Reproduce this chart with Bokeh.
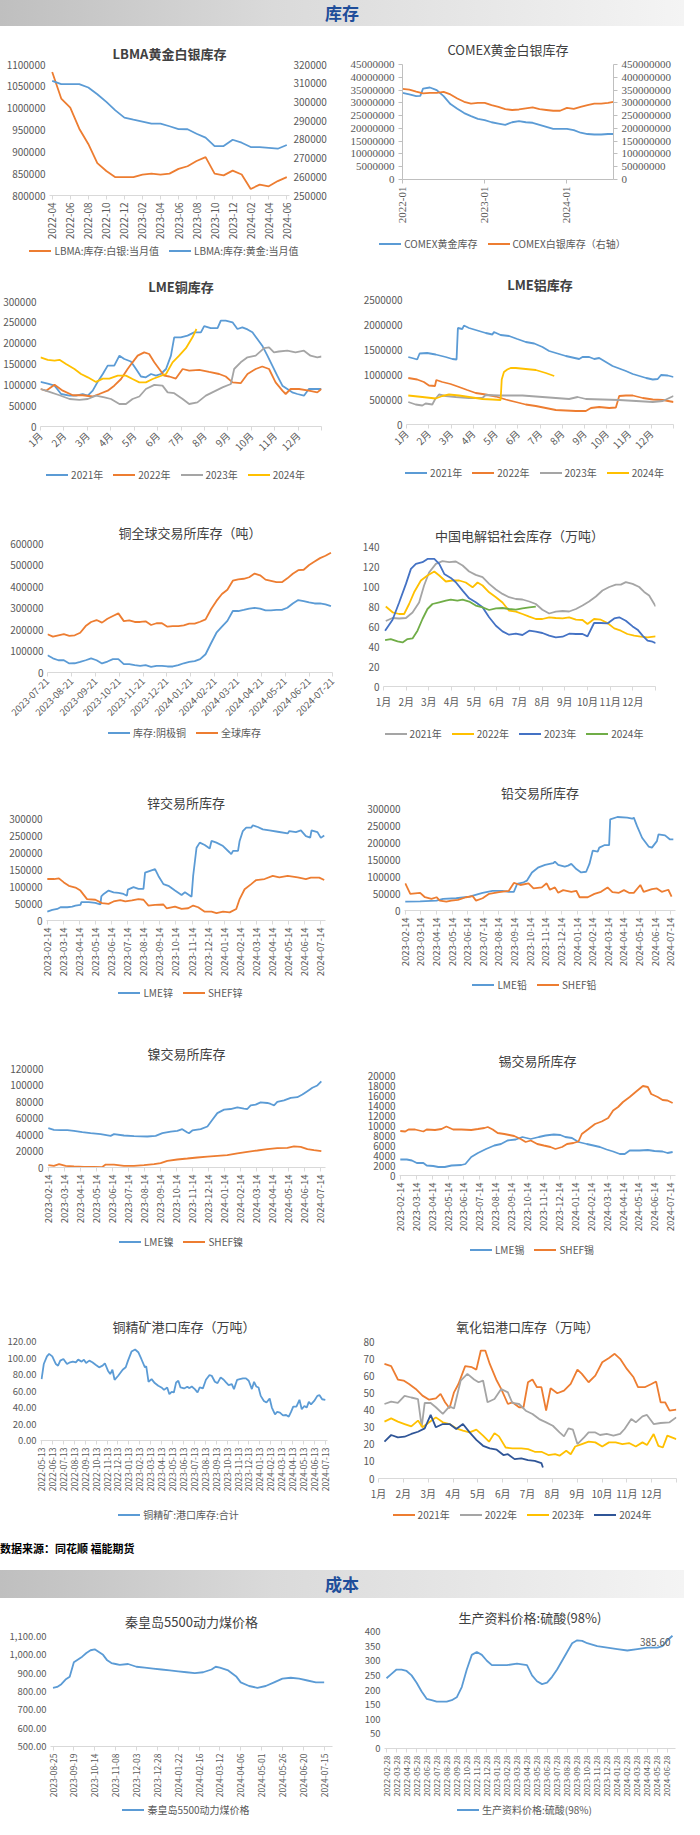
import math
import pandas as pd
from bokeh.plotting import figure
from bokeh.models import Range1d, LinearAxis, FixedTicker, NumeralTickFormatter, Div, AllLabels
from bokeh.layouts import column, row
from bokeh.embed import file_html
from bokeh.resources import INLINE
from bokeh.core.properties import value

# ======================= DATA =======================
lbma_months = list(range(27))
lbma_tick_pos = list(range(0, 27, 2))
lbma_tick_labels = ["2022-04", "2022-06", "2022-08", "2022-10", "2022-12", "2023-02", "2023-04",
                    "2023-06", "2023-08", "2023-10", "2023-12", "2024-02", "2024-04", "2024-06"]
lbma_silver = [1083000, 1022000, 1001000, 953000, 918000, 874000, 856000, 842000, 842000, 842000,
               848000, 850000, 848000, 850000, 861000, 867000, 879000, 888000, 850000, 846000,
               857000, 848000, 815000, 825000, 821000, 833000, 842000]
lbma_gold = [311250, 309500, 309500, 309500, 307700, 304100, 300000, 295500, 291600, 290500,
             289500, 288400, 288400, 287000, 285500, 285400, 283000, 280900, 276400, 276400,
             279800, 278200, 275900, 275900, 275500, 275000, 277000]

comex_tick_pos = [0, 12, 24]
comex_tick_labels = ["2022-01", "2023-01", "2024-01"]
comex_gold_m = [0, 1, 2, 2.6, 3, 4, 5, 6, 7, 8, 9, 10, 11, 12, 13, 14, 15, 16, 17, 18, 19, 20,
                21, 22, 23, 24, 25, 26, 27, 28, 29, 30, 30.8]
comex_gold = [33.9e6, 33.3e6, 32.6e6, 32.7e6, 35.6e6, 36.0e6, 35.0e6, 32.6e6, 29.5e6, 27.7e6,
              26.0e6, 24.8e6, 23.7e6, 23.2e6, 22.4e6, 21.9e6, 21.4e6, 22.4e6, 22.8e6, 22.4e6,
              22.2e6, 21.4e6, 20.6e6, 19.8e6, 19.8e6, 19.8e6, 19.3e6, 18.3e6, 17.8e6, 17.6e6,
              17.6e6, 17.8e6, 17.8e6]
comex_silver_m = [0, 1, 2, 3, 4, 5, 6, 7, 8, 9, 10, 11, 12, 13, 14, 15, 16, 17, 18, 19, 20, 21,
                  22, 23, 24, 25, 26, 27, 28, 29, 30, 30.8]
comex_silver = [355e6, 352e6, 344e6, 337e6, 339e6, 339e6, 343e6, 333e6, 317e6, 304e6, 297e6,
                300e6, 300e6, 291e6, 284e6, 275e6, 272e6, 274e6, 278e6, 282e6, 275e6, 272e6,
                269e6, 269e6, 280e6, 276e6, 284e6, 291e6, 297e6, 297e6, 300e6, 304e6]

month_labels = ["1月", "2月", "3月", "4月", "5月", "6月", "7月", "8月", "9月", "10月", "11月", "12月"]

cu21_m = [0, 0.31, 0.6, 0.88, 1.24, 1.52, 1.8, 2.02, 2.23, 2.44, 2.66, 2.87, 3.15, 3.37, 3.58, 3.86,
          4.08, 4.29, 4.5, 4.72, 4.93, 5.14, 5.36, 5.57, 5.71, 5.99, 6.28, 6.56, 6.85, 6.99, 7.27,
          7.56, 7.7, 7.91, 8.2, 8.41, 8.62, 8.84, 9.05, 9.26, 9.47, 9.69, 9.9, 10.11, 10.33, 10.54,
          10.75, 10.97, 11.25, 11.46, 11.75, 12.0]
cu21_v = [107, 103, 98, 78, 74, 74, 78, 74, 86, 107, 126, 146, 146, 170, 162, 156, 138, 120, 118,
          126, 122, 126, 138, 170, 214, 214, 218, 226, 226, 241, 236, 236, 254, 254, 250, 234, 238,
          233, 226, 210, 194, 170, 146, 122, 98, 90, 82, 78, 74, 90, 90, 90]
cu22_m = [0, 0.24, 0.6, 0.95, 1.38, 1.8, 2.23, 2.51, 2.87, 3.15, 3.44, 3.72, 3.93, 4.15, 4.43, 4.64,
          4.86, 5.07, 5.28, 5.5, 5.78, 6.07, 6.35, 6.78, 7.2, 7.63, 7.91, 8.2, 8.55, 8.84, 9.19,
          9.47, 9.76, 10.04, 10.33, 10.47, 10.68, 11.04, 11.46, 11.82, 12]
cu22_v = [90, 86, 100, 86, 75, 75, 72, 78, 86, 98, 114, 138, 154, 170, 178, 174, 154, 138, 122, 120,
          115, 138, 134, 136, 131, 126, 120, 106, 104, 126, 138, 144, 138, 106, 86, 78, 90, 90, 86,
          82, 90]
cu23_m = [0, 0.38, 0.81, 1.24, 1.66, 2.02, 2.37, 2.73, 3.01, 3.37, 3.65, 3.93, 4.22, 4.5, 4.86,
          5.21, 5.43, 5.71, 6.07, 6.35, 6.7, 7.06, 7.34, 7.77, 8.13, 8.27, 8.55, 8.84, 9.19, 9.55,
          9.76, 9.97, 10.18, 10.54, 10.89, 11.25, 11.53, 11.82, 12]
cu23_v = [90, 83, 75, 66, 64, 66, 74, 70, 66, 54, 54, 66, 72, 90, 100, 98, 82, 80, 66, 54, 58, 74,
          82, 94, 102, 138, 154, 166, 170, 188, 190, 178, 180, 182, 178, 182, 170, 166, 168]
cu24_m = [0, 0.31, 0.6, 0.81, 1.09, 1.45, 1.73, 2.02, 2.37, 2.66, 2.94, 3.3, 3.65, 3.93, 4.22, 4.5,
          4.79, 5.07, 5.36, 5.64, 5.92, 6.21, 6.49, 6.66]
cu24_v = [166, 160, 158, 160, 150, 138, 126, 118, 107, 115, 115, 122, 122, 114, 106, 106, 114, 120,
          126, 154, 170, 188, 214, 234]

al21_m = [0.08, 0.33, 0.48, 0.59, 0.93, 1.31, 1.76, 2.06, 2.25, 2.31, 2.51, 2.58, 2.81, 3.11, 3.56,
          3.86, 3.93, 4.23, 4.61, 4.98, 5.36, 5.74, 6.11, 6.41, 6.86, 7.16, 7.46, 7.76, 7.91, 8.21,
          8.44, 8.66, 8.96, 9.26, 9.56, 9.86, 10.17, 10.47, 10.77, 11.07, 11.29, 11.44, 11.74, 12.0]
al21_v = [1.35, 1.32, 1.30, 1.42, 1.43, 1.40, 1.35, 1.31, 1.30, 1.93, 1.91, 1.98, 1.93, 1.89, 1.83,
          1.80, 1.85, 1.79, 1.77, 1.71, 1.65, 1.62, 1.55, 1.47, 1.41, 1.37, 1.34, 1.31, 1.35, 1.35,
          1.31, 1.33, 1.25, 1.17, 1.12, 1.07, 1.01, 0.97, 0.93, 0.90, 0.91, 0.99, 0.98, 0.95]
al22_m = [0.08, 0.48, 0.78, 1.01, 1.28, 1.34, 1.61, 1.98, 2.36, 2.73, 3.11, 3.56, 4.01, 4.46, 4.91,
          5.36, 5.81, 6.26, 6.71, 7.16, 7.61, 8.06, 8.29, 8.66, 9.11, 9.41, 9.56, 9.86, 10.17,
          10.62, 11.07, 11.52, 12.0]
al22_v = [0.93, 0.90, 0.85, 0.78, 0.77, 0.89, 0.85, 0.81, 0.75, 0.69, 0.63, 0.60, 0.56, 0.50, 0.45,
          0.40, 0.37, 0.33, 0.29, 0.28, 0.27, 0.27, 0.33, 0.35, 0.33, 0.34, 0.57, 0.58, 0.58, 0.53,
          0.50, 0.49, 0.45]
al23_m = [0.08, 0.41, 0.71, 0.86, 1.16, 1.28, 1.46, 1.76, 2.21, 2.81, 3.41, 3.56, 4.16, 4.61, 5.21,
          5.51, 6.11, 6.71, 7.31, 7.69, 8.06, 8.81, 9.56, 10.32, 11.07, 11.52, 12]
al23_v = [0.45, 0.40, 0.38, 0.42, 0.40, 0.50, 0.60, 0.57, 0.55, 0.53, 0.53, 0.59, 0.58, 0.58, 0.58,
          0.57, 0.55, 0.53, 0.51, 0.55, 0.51, 0.50, 0.49, 0.47, 0.45, 0.47, 0.57]
al24_m = [0.08, 0.71, 1.31, 1.61, 1.91, 2.36, 2.81, 3.41, 3.86, 4.23, 4.28, 4.38, 4.53, 4.68, 4.91,
          5.36, 5.81, 6.26, 6.64]
al24_v = [0.58, 0.55, 0.52, 0.57, 0.60, 0.58, 0.55, 0.51, 0.50, 0.49, 0.90, 1.05, 1.10, 1.13, 1.13,
          1.11, 1.09, 1.03, 0.97]

cug_start = "2023-07-21"
cug_tick_labels = ["2023-07-21", "2023-08-21", "2023-09-21", "2023-10-21", "2023-11-21",
                   "2023-12-21", "2024-01-21", "2024-02-21", "2024-03-21", "2024-04-21",
                   "2024-05-21", "2024-06-21", "2024-07-21"]
cug_total = [178, 167, 173, 178, 170, 173, 185, 216, 235, 244, 232, 250, 263, 275, 239, 242, 235,
             235, 238, 221, 229, 229, 213, 216, 216, 219, 227, 227, 236, 247, 294, 333, 365, 385,
             427, 433, 436, 443, 460, 452, 432, 426, 420, 420, 438, 459, 476, 478, 500, 516, 532,
             543, 557]
cug_cathode = [80, 66, 57, 57, 42, 43, 49, 57, 66, 57, 42, 51, 62, 62, 39, 39, 34, 31, 34, 26, 31,
               31, 28, 28, 34, 43, 49, 53, 62, 85, 136, 185, 213, 240, 286, 286, 291, 297, 301, 297,
               289, 289, 291, 291, 301, 321, 337, 332, 326, 321, 321, 317, 309]

ac21_m = [0.1, 0.4, 0.69, 0.99, 1.28, 1.57, 1.79, 2.01, 2.31, 2.6, 2.9, 3.19, 3.49, 3.78, 4.07,
          4.37, 4.66, 4.96, 5.25, 5.54, 5.84, 6.13, 6.43, 6.72, 7.01, 7.31, 7.6, 7.9, 8.19, 8.49,
          8.78, 9.07, 9.37, 9.66, 9.96, 10.25, 10.47, 10.69, 10.99, 11.28, 11.5, 11.72, 12.01]
ac21_v = [65.5, 68.5, 68, 68.5, 74, 84, 101, 114, 122.6, 125.3, 124.3, 125, 121, 115, 111.6, 109.3,
          102.6, 97, 92.6, 89.3, 87.5, 87, 85, 82.5, 76.8, 73, 74.8, 75.5, 75, 77.5, 81, 85, 90, 96,
          99.5, 101.9, 101.9, 104.4, 102.6, 99.5, 94.6, 91, 80]
ac22_m = [0.1, 0.4, 0.69, 0.91, 1.13, 1.35, 1.65, 1.94, 2.24, 2.46, 2.75, 3.04, 3.34, 3.63, 3.93,
          4.15, 4.37, 4.66, 4.96, 5.25, 5.54, 5.84, 6.13, 6.43, 6.72, 7.01, 7.31, 7.6, 7.9, 8.19,
          8.49, 8.78, 9.0, 9.29, 9.59, 9.88, 10.18, 10.47, 10.76, 11.06, 11.35, 11.65, 12.01]
ac22_v = [80, 74.2, 72.5, 72.5, 82.5, 94.2, 106, 111, 115, 111, 105, 106, 106, 104, 99.2, 104, 101,
          94.2, 89.2, 84, 75.8, 74.8, 72.5, 69.8, 67.5, 67.5, 69.2, 68.5, 68.2, 69.2, 66.8, 66.5,
          62.5, 67.5, 66.8, 63.5, 58.1, 55.8, 52.5, 50.8, 49.8, 49.2, 50.2]
ac23_m = [0.07, 0.4, 0.69, 0.99, 1.21, 1.43, 1.72, 1.94, 2.24, 2.46, 2.68, 2.97, 3.19, 3.49, 3.78,
          4.07, 4.37, 4.66, 4.96, 5.25, 5.54, 5.84, 6.13, 6.43, 6.72, 7.01, 7.31, 7.6, 7.9, 8.19,
          8.49, 8.78, 9.0, 9.29, 9.59, 9.88, 10.18, 10.4, 10.69, 10.99, 11.21, 11.43, 11.65, 11.87,
          12.01]
ac23_v = [55.8, 66.8, 84, 102.6, 117.6, 122.6, 124.3, 127.6, 127.6, 122.6, 112.6, 108.6, 104.3,
          95.9, 88.2, 84.2, 79.2, 69.2, 60.8, 55.1, 51.8, 52.8, 51.5, 55.8, 54.8, 53.5, 50.8, 49.1,
          49.8, 52.8, 52.5, 52.5, 50.1, 63.5, 63.5, 63.1, 68.1, 69.2, 65.8, 60.1, 56.8, 50.8, 45.8,
          44.8, 43.4]
ac24_m = [0.07, 0.32, 0.62, 0.84, 1.06, 1.28, 1.5, 1.72, 1.94, 2.16, 2.46, 2.75, 2.97, 3.26, 3.49,
          3.78, 4.07, 4.37, 4.66, 4.96, 5.25, 5.54, 5.84, 6.13, 6.43, 6.72]
ac24_v = [46.4, 47.4, 45.1, 44.1, 47.4, 48.1, 55.8, 67.5, 77.5, 82.5, 84.2, 85.8, 86.9, 85.8, 86.9,
          84.9, 80.9, 79.2, 76.5, 78.2, 78.5, 77.5, 76.8, 78.2, 79.2, 79.9]

ex_tick_labels = ["2023-02-14", "2023-03-14", "2023-04-14", "2023-05-14", "2023-06-14",
                  "2023-07-14", "2023-08-14", "2023-09-14", "2023-10-14", "2023-11-14",
                  "2023-12-14", "2024-01-14", "2024-02-14", "2024-03-14", "2024-04-14",
                  "2024-05-14", "2024-06-14", "2024-07-14"]
ex_tick_pos = list(range(18))

zn_lme_m = [0, 0.31, 0.62, 0.82, 1.24, 1.55, 1.75, 2.06, 2.12, 2.58, 2.99, 3.3, 3.36, 3.51, 3.81,
            4.12, 4.43, 4.74, 4.95, 5.01, 5.36, 5.67, 5.98, 6.08, 6.39, 6.7, 6.91, 7.22, 7.53, 7.94,
            8.35, 8.56, 8.97, 9.07, 9.28, 9.48, 9.79, 10.1, 10.21, 10.52, 10.93, 11.34, 11.44,
            11.55, 11.86, 11.96, 12.16, 12.37, 12.68, 12.78, 13.09, 13.4, 13.81, 14.33, 14.95,
            15.05, 15.46, 15.77, 16.08, 16.35, 16.43, 16.8, 17.01, 17.22]
zn_lme_v = [26, 31, 34, 39, 39, 41, 44, 46, 54, 54, 52, 47, 71, 78, 88, 83, 81, 78, 73, 91, 98, 93,
            93, 141, 146, 151, 131, 107, 102, 88, 75, 83, 70, 131, 214, 229, 222, 212, 234, 229, 219,
            200, 195, 205, 205, 234, 263, 273, 273, 280, 275, 268, 265, 261, 256, 263, 260, 265, 248,
            244, 265, 260, 243, 250]
zn_shf_m = [0, 0.41, 0.72, 1.03, 1.34, 1.75, 2.06, 2.47, 2.99, 3.4, 3.81, 4.12, 4.54, 4.85, 5.26,
            5.67, 5.98, 6.29, 6.7, 7.22, 7.42, 7.94, 8.35, 8.76, 9.07, 9.38, 9.79, 10.21, 10.52,
            10.93, 11.34, 11.75, 11.96, 12.27, 12.68, 12.99, 13.51, 14.02, 14.43, 14.95, 15.57,
            16.08, 16.39, 16.91, 17.22]
zn_shf_v = [122, 122, 124, 112, 102, 97, 88, 63, 61, 51, 49, 56, 60, 56, 59, 63, 61, 44, 46, 47, 36,
            41, 34, 36, 44, 39, 26, 26, 22, 26, 24, 34, 63, 92, 107, 119, 122, 131, 127, 131, 127,
            122, 126, 126, 119]

pb_lme_m = [0, 0.95, 2.0, 2.42, 3.26, 4.11, 4.95, 5.58, 6.21, 6.63, 6.95, 7.16, 7.58, 7.79, 8.11,
            8.53, 8.95, 9.47, 9.58, 9.79, 10.21, 10.42, 10.63, 10.95, 11.26, 11.58, 11.79, 12.0,
            12.32, 12.42, 12.74, 13.05, 13.12, 13.58, 14.21, 14.53, 14.63, 14.84, 15.16, 15.58,
            15.79, 16.11, 16.21, 16.63, 16.95, 17.16]
pb_lme_v = [26, 27, 29, 34, 36, 41, 52, 58, 58, 55, 55, 78, 83, 88, 112, 127, 134, 139, 144, 134,
            129, 132, 137, 122, 112, 114, 137, 176, 173, 185, 192, 192, 268, 275, 273, 270, 273, 248,
            214, 188, 185, 204, 224, 221, 209, 209]
pb_shf_m = [0, 0.32, 0.95, 1.26, 1.68, 2.0, 2.21, 2.63, 2.95, 3.37, 3.89, 4.32, 4.53, 4.95, 5.37,
            6.0, 6.63, 6.95, 7.37, 7.89, 8.21, 8.74, 9.05, 9.26, 9.58, 9.79, 10.11, 10.63, 10.95,
            11.16, 11.68, 12.11, 12.53, 12.95, 13.26, 13.68, 14.0, 14.32, 14.63, 15.05, 15.26,
            15.79, 16.11, 16.42, 16.84, 17.05]
pb_shf_v = [80, 49, 52, 39, 34, 39, 29, 26, 29, 31, 39, 42, 29, 36, 49, 54, 58, 81, 75, 80, 65, 68,
            80, 61, 68, 52, 60, 55, 58, 39, 39, 49, 55, 68, 54, 52, 60, 52, 52, 75, 55, 63, 65, 55,
            61, 41]

ni_lme_m = [0, 0.35, 0.77, 1.19, 1.6, 2.12, 2.64, 3.27, 3.89, 4.1, 4.72, 5.35, 6.18, 6.7, 7.12,
            7.64, 8.05, 8.36, 8.68, 8.78, 8.99, 9.51, 9.93, 10.24, 10.55, 10.76, 10.97, 11.38, 11.8,
            12.21, 12.42, 12.63, 12.94, 13.25, 13.67, 13.88, 14.09, 14.29, 14.71, 15.13, 15.54,
            15.86, 16.17, 16.48, 16.79, 17.04]
ni_lme_v = [47.7, 45.7, 45.3, 45.3, 44.4, 42.8, 41.6, 40.4, 38.4, 40.4, 38.8, 38.0, 37.6, 38.4,
            41.6, 43.6, 44.4, 46.5, 42.4, 41.6, 44.9, 46.5, 49.7, 57.8, 65.9, 68.0, 70.1, 70.9,
            72.9, 71.3, 70.9, 75.4, 76.2, 79.0, 78.2, 77.0, 75.4, 79.4, 81.4, 84.4, 85.2, 88.4,
            92.5, 96.6, 99.4, 104.5]
ni_shf_m = [0, 0.35, 0.67, 1.08, 1.6, 2.23, 2.85, 3.37, 3.58, 4.1, 4.72, 5.35, 5.97, 6.6, 7.01,
            7.43, 8.05, 8.68, 9.3, 9.93, 10.55, 11.17, 11.8, 12.42, 13.05, 13.67, 14.29, 14.92,
            15.33, 15.75, 16.17, 16.58, 17.04]
ni_shf_v = [2.8, 2.0, 4.0, 2.0, 1.2, 0.8, 0.8, 0.5, 3.6, 3.6, 2.0, 2.0, 2.8, 4.0, 5.3, 8.1, 9.7,
            10.9, 12.1, 13.3, 14.1, 14.9, 17.0, 19.0, 20.6, 22.2, 23.4, 23.8, 25.5, 25.1, 22.2,
            21.0, 19.8]

sn_lme_m = [0, 0.41, 0.73, 1.04, 1.45, 1.66, 2.07, 2.39, 2.8, 3.22, 3.84, 4.09, 4.46, 4.88, 5.39,
            5.91, 6.33, 6.74, 7.26, 7.68, 8.2, 8.71, 9.13, 9.65, 10.06, 10.37, 10.79, 11.2, 11.72,
            12.14, 12.55, 12.97, 13.38, 13.8, 14.11, 14.42, 15.04, 15.56, 15.98, 16.49, 16.8, 17.12]
sn_lme_v = [3.2, 3.2, 3.0, 2.5, 2.5, 2.0, 1.9, 1.7, 1.7, 2.0, 2.1, 2.3, 3.7, 4.5, 5.3, 6.0, 6.3,
            7.0, 7.2, 7.7, 7.3, 7.7, 8.0, 8.2, 8.1, 7.7, 7.5, 6.7, 6.3, 6.0, 5.7, 5.2, 4.8, 4.3, 4.3,
            5.0, 5.0, 5.1, 4.9, 4.8, 4.5, 4.7]
sn_shf_m = [0, 0.31, 0.52, 0.93, 1.45, 1.66, 2.18, 2.59, 2.9, 3.32, 3.84, 4.46, 4.88, 5.29, 5.5,
            5.81, 6.12, 6.54, 6.85, 7.16, 7.57, 7.88, 8.2, 8.61, 9.02, 9.44, 9.75, 10.17, 10.48,
            10.89, 11.2, 11.41, 11.83, 12.24, 12.66, 13.07, 13.38, 13.69, 14.0, 14.42, 14.83,
            15.25, 15.56, 15.77, 16.18, 16.49, 16.8, 17.12]
sn_shf_v = [8.9, 8.8, 9.2, 9.2, 8.8, 9.2, 9.1, 9.3, 9.8, 9.2, 9.2, 9.1, 9.3, 9.5, 9.7, 9.2, 8.5,
            8.3, 8.1, 7.9, 7.3, 6.7, 7.0, 6.3, 6.0, 5.7, 5.3, 5.7, 6.3, 6.5, 6.8, 8.3, 9.3, 10.3,
            10.8, 11.5, 13.0, 13.7, 14.7, 15.7, 16.8, 17.9, 17.7, 16.3, 15.7, 15.1, 15.0, 14.5]

cc_tick_labels = ["2022-05-13", "2022-06-13", "2022-07-13", "2022-08-13", "2022-09-13",
                  "2022-10-13", "2022-11-13", "2022-12-13", "2023-01-13", "2023-02-13",
                  "2023-03-13", "2023-04-13", "2023-05-13", "2023-06-13", "2023-07-13",
                  "2023-08-13", "2023-09-13", "2023-10-13", "2023-11-13", "2023-12-13",
                  "2024-01-13", "2024-02-13", "2024-03-13", "2024-04-13", "2024-05-13",
                  "2024-06-13", "2024-07-13"]
cc_tick_pos = list(range(27))
cc_m = [0, 0.2, 0.49, 0.69, 0.98, 1.31, 1.51, 1.71, 2.0, 2.33, 2.61, 2.86, 3.14, 3.35, 3.67, 3.88,
        4.08, 4.37, 4.65, 4.98, 5.27, 5.59, 5.8, 6.08, 6.29, 6.49, 6.69, 7.02, 7.43, 7.71, 7.92,
        8.24, 8.57, 8.86, 9.14, 9.47, 9.59, 9.8, 10.08, 10.37, 10.69, 10.98, 11.22, 11.51, 11.71,
        11.92, 12.12, 12.33, 12.53, 12.73, 13.06, 13.35, 13.55, 13.76, 14.04, 14.29, 14.49, 14.78,
        15.06, 15.39, 15.59, 15.88, 16.12, 16.41, 16.69, 16.9, 17.14, 17.43, 17.63, 17.92, 18.16,
        18.45, 18.73, 18.98, 19.27, 19.47, 19.67, 19.88, 20.08, 20.37, 20.61, 20.9, 21.1, 21.39,
        21.59, 21.84, 22.12, 22.41, 22.65, 22.86, 23.06, 23.35, 23.63, 23.84, 24.08, 24.29, 24.49,
        24.69, 24.98, 25.27, 25.47, 25.71, 26.0]
cc_v = [74.4, 92.7, 102, 105, 102, 92.7, 90.7, 96.8, 98.8, 92.7, 94.8, 95.6, 94.8, 98, 95.6, 98, 94,
        96.8, 94.8, 91.5, 88.7, 90.7, 93.6, 84.6, 80.5, 85.8, 73.6, 78.5, 85.8, 88.7, 96.8, 107.8,
        110.3, 107, 98.8, 88.7, 89.9, 71.2, 74.4, 69.6, 66.3, 64.3, 61.4, 64.3, 56.1, 59, 58.2,
        70.4, 72.4, 64.3, 63.1, 65.1, 63.5, 65.5, 62.3, 58.2, 64.3, 63.1, 73.6, 79.3, 78.5, 71.2,
        69.6, 76.5, 73.6, 70.4, 67.1, 68.4, 62.3, 73.6, 74.4, 75.3, 75.3, 72.4, 62.3, 71.2, 65.5,
        64.3, 54.1, 48, 46, 50.9, 39.9, 31.7, 34.6, 33.8, 30.5, 30.9, 28.9, 34.6, 41.1, 41.1, 49.3,
        37.8, 41.9, 39.9, 46.8, 43.9, 48, 54.1, 54.9, 50, 49.3]

ao21_m = [0.24, 0.51, 0.78, 1.01, 1.23, 1.5, 1.77, 2.04, 2.31, 2.5, 2.68, 2.86, 3.04, 3.22, 3.49,
          3.76, 3.94, 4.12, 4.3, 4.48, 4.76, 4.94, 5.21, 5.39, 5.66, 5.84, 6.02, 6.2, 6.38, 6.56,
          6.75, 6.93, 7.2, 7.47, 7.74, 8.01, 8.19, 8.46, 8.73, 9.01, 9.28, 9.51, 9.73, 10.0, 10.27,
          10.45, 10.72, 10.99, 11.18, 11.36, 11.54, 11.72, 11.99]
ao21_v = [66.9, 65.6, 57.8, 57.2, 55.2, 52.3, 48.4, 46.0, 46.8, 49.4, 44.5, 41.0, 50.3, 55.2, 65.6,
          65.0, 63.6, 74.7, 74.7, 66.9, 57.2, 52.3, 43.5, 44.5, 41.6, 41.6, 56.2, 57.8, 53.3, 53.3,
          39.6, 52.7, 49.8, 51.3, 55.2, 63.6, 61.1, 56.2, 60.1, 67.9, 70.4, 72.8, 69.9, 64.0, 59.1,
          53.3, 53.3, 55.2, 56.6, 44.5, 44.5, 39.6, 40.2]
ao22_m = [0.24, 0.51, 0.78, 1.05, 1.32, 1.59, 1.74, 1.86, 2.1, 2.31, 2.59, 2.86, 3.04, 3.31, 3.58,
          3.85, 4.03, 4.21, 4.39, 4.67, 4.94, 5.21, 5.39, 5.66, 5.93, 6.2, 6.47, 6.75, 7.02, 7.29,
          7.47, 7.65, 7.83, 8.01, 8.28, 8.46, 8.73, 8.92, 9.19, 9.46, 9.73, 9.91, 10.18, 10.36,
          10.63, 10.81, 11.08, 11.36, 11.72, 11.99]
ao22_v = [43.5, 44.9, 44.1, 48.3, 47.3, 46.4, 30.2, 44.1, 44.1, 41.6, 37.7, 42.1, 40.9, 57.2, 61.1,
          57.8, 56.2, 57.2, 44.5, 46.4, 52.3, 50.3, 44.1, 43.5, 39.6, 37.7, 34.7, 32.8, 30.8, 26.9,
          24.6, 29.3, 28.5, 20.1, 24.0, 26.9, 26.9, 25.4, 26.0, 25.0, 26.0, 28.9, 34.7, 32.8, 36.3,
          37.1, 31.8, 32.4, 32.8, 35.7]
ao23_m = [0.24, 0.51, 0.78, 1.05, 1.32, 1.59, 1.77, 2.04, 2.31, 2.59, 2.86, 3.13, 3.4, 3.67, 3.94,
          4.21, 4.45, 4.67, 4.85, 5.12, 5.39, 5.75, 6.02, 6.29, 6.56, 6.84, 7.11, 7.29, 7.56, 7.74,
          7.92, 8.19, 8.46, 8.73, 9.01, 9.28, 9.55, 9.82, 10.09, 10.36, 10.63, 10.81, 11.08, 11.27,
          11.45, 11.63, 11.99]
ao23_v = [33.2, 35.1, 33.2, 31.8, 30.4, 33.8, 29.9, 32.8, 35.7, 32.8, 31.8, 29.3, 27.9, 26.9, 28.5,
          25.0, 21.5, 26.5, 24.6, 18.1, 17.6, 17.6, 17.2, 15.6, 15.6, 13.7, 14.2, 13.3, 16.2, 14.2,
          18.7, 20.1, 21.5, 21.1, 18.7, 21.1, 21.1, 20.1, 20.7, 18.7, 21.1, 19.5, 26.0, 19.1, 18.1,
          25.0, 23.0]
ao24_m = [0.24, 0.51, 0.78, 1.05, 1.32, 1.59, 1.86, 2.1, 2.31, 2.59, 2.86, 3.13, 3.4, 3.67, 3.94,
          4.21, 4.48, 4.76, 5.03, 5.21, 5.48, 5.75, 6.02, 6.29, 6.56, 6.62]
ao24_v = [21.5, 25.4, 24.0, 24.4, 26.0, 27.3, 29.3, 37.1, 29.9, 31.8, 31.8, 28.9, 31.8, 26.9, 22.6,
          19.1, 17.6, 16.8, 13.7, 14.2, 11.3, 11.7, 10.7, 10.3, 9.0, 6.4]

coal_tick_labels = ["2023-08-25", "2023-09-19", "2023-10-14", "2023-11-08", "2023-12-03",
                    "2023-12-28", "2024-01-22", "2024-02-16", "2024-03-12", "2024-04-06",
                    "2024-05-01", "2024-05-26", "2024-06-20", "2024-07-15"]
coal_tick_pos = [0, 25, 50, 75, 100, 125, 150, 175, 200, 225, 250, 275, 300, 325]
coal_day = [0, 5, 10, 15, 20, 25, 30, 35, 40, 45, 50, 55, 60, 65, 70, 75, 80, 90, 100, 110, 120, 130,
            140, 150, 160, 170, 180, 190, 195, 200, 210, 220, 225, 235, 245, 255, 265, 275, 285, 295,
            305, 315, 325]
coal_val = [820, 825, 840, 865, 880, 960, 975, 990, 1010, 1025, 1030, 1015, 1000, 970, 955, 950, 945,
            950, 935, 930, 925, 920, 915, 910, 905, 900, 905, 920, 935, 930, 915, 880, 850, 830, 820,
            830, 850, 870, 875, 870, 860, 850, 850]

sa_tick_labels = ["2022-02-28", "2022-03-28", "2022-04-28", "2022-05-28", "2022-06-28",
                  "2022-07-28", "2022-08-28", "2022-09-28", "2022-10-28", "2022-11-28",
                  "2022-12-28", "2023-01-28", "2023-02-28", "2023-03-28", "2023-04-28",
                  "2023-05-28", "2023-06-28", "2023-07-28", "2023-08-28", "2023-09-28",
                  "2023-10-28", "2023-11-28", "2023-12-28", "2024-01-28", "2024-02-28",
                  "2024-03-28", "2024-04-28", "2024-05-28", "2024-06-28"]
sa_tick_pos = list(range(29))
sa_m = [0, 0.5, 1, 1.5, 2, 2.5, 3, 3.5, 4, 4.5, 5, 5.5, 6, 6.5, 7, 7.5, 8, 8.5, 9, 9.5, 10, 10.5, 11,
        12, 13, 14, 14.5, 15, 15.5, 16, 16.5, 17, 17.5, 18, 18.5, 19, 19.5, 20, 21, 22, 23, 24, 25,
        26, 27, 27.5, 28, 28.5]
sa_v = [240, 255, 270, 270, 265, 250, 225, 195, 170, 165, 160, 160, 160, 165, 175, 210, 270, 320,
        330, 320, 300, 285, 285, 285, 290, 285, 250, 230, 220, 225, 245, 270, 300, 330, 360, 370,
        368, 360, 350, 345, 340, 335, 340, 345, 345, 350, 370, 385.6]

# ======================= STYLE HELPERS =======================
FONT = "Noto Sans CJK SC"
SERIF = "Liberation Serif"
TXT = "#595959"
AX = "#D9D9D9"
BLUE = "#5B9BD5"
ORANGE = "#ED7D31"
GRAY = "#A5A5A5"
YELLOW = "#FFC000"
DBLUE = "#4472C4"
GREEN = "#70AD47"
NAVY = "#2F5597"
W = 342
LW = 1.8
R45 = math.pi / 4
R90 = math.pi / 2


def mkfig(title, h, xr, yr, bl, br, bt, bb, standoff=8, bold=False):
    p = figure(width=W, height=h, x_range=xr, y_range=yr, toolbar_location=None,
               output_backend="svg", min_border_left=bl, min_border_right=br,
               min_border_top=bt, min_border_bottom=bb, title=title)
    t = p.title
    t.align = "center"
    t.text_font = FONT
    t.text_font_size = "13px"
    t.text_font_style = "bold" if bold else "normal"
    t.text_color = "#404040"
    t.standoff = standoff
    p.outline_line_color = None
    p.xgrid.visible = False
    p.ygrid.visible = False
    p.border_fill_color = "white"
    p.background_fill_color = "white"
    return p


def style_x(p, ticks, labels, orient=None, size="10px", font=FONT, line=AX):
    xa = p.xaxis[0]
    xa.ticker = FixedTicker(ticks=ticks)
    xa.major_label_overrides = {t: l for t, l in zip(ticks, labels)}
    xa.major_label_policy = AllLabels()
    xa.axis_line_color = line
    xa.major_tick_line_color = line
    xa.major_tick_in = 0
    xa.major_tick_out = 4
    xa.minor_tick_line_color = None
    xa.major_label_text_font = font
    xa.major_label_text_font_size = size
    xa.major_label_text_color = TXT
    xa.major_label_standoff = 3
    if orient is not None:
        xa.major_label_orientation = orient


def style_y(ax, ticks, fmt="0", size="10px", font=FONT, line=None):
    ax.ticker = FixedTicker(ticks=ticks)
    ax.formatter = NumeralTickFormatter(format=fmt)
    ax.major_label_policy = AllLabels()
    ax.axis_line_color = line
    ax.major_tick_line_color = line
    ax.major_tick_in = 0
    ax.major_tick_out = 4 if line else 0
    ax.minor_tick_line_color = None
    ax.major_label_text_font = font
    ax.major_label_text_font_size = size
    ax.major_label_text_color = TXT
    ax.major_label_standoff = 4


def legend_div(items, h, bl, br, font=FONT, size=10, gap=10):
    parts = []
    for lab, col in items:
        parts.append('<span style="display:inline-block;width:22px;height:2px;background:%s;'
                     'margin-right:3px;vertical-align:middle;"></span>'
                     '<span style="margin-right:%dpx;vertical-align:middle;">%s</span>'
                     % (col, gap, lab))
    shift = bl - br
    pad = "padding-left:%dpx;" % shift if shift >= 0 else "padding-right:%dpx;" % (-shift)
    html = ('<div style="width:%dpx;height:16px;line-height:16px;text-align:center;white-space:nowrap;'
            'font-family:\'%s\';font-size:%dpx;color:%s;box-sizing:border-box;%s">%s</div>'
            % (W, font, size, TXT, pad, "".join(parts)))
    return Div(text=html, width=W, height=h, margin=(0, 0, 0, 0))


def cell(p, items, H, bl, br, **kw):
    return column(p, legend_div(items, H - p.height, bl, br, **kw))


def header(txt, h):
    html = ('<div style="width:684px;height:%dpx;background:linear-gradient(90deg,#BFBFBF 0%%,'
            '#DADADA 40%%,#F4F4F4 100%%);text-align:center;line-height:%dpx;'
            'font-family:\'Noto Sans CJK SC\';font-weight:bold;font-size:17px;color:#1F4E9A;">%s</div>'
            % (h, h, txt))
    return Div(text=html, width=684, height=h, margin=(0, 0, 0, 0))


def scaled(vals, k):
    return [v * k for v in vals]


# ======================= ROW 1 =======================
H = 232
FH = 216
p1 = mkfig("LBMA黄金白银库存", FH, Range1d(-0.3, 26.3), Range1d(800000, 1100000),
           49, 53, 38, FH - 169, standoff=4, bold=True)
p1.extra_y_ranges = {"gold": Range1d(250000, 320000)}
p1.line(lbma_months, lbma_silver, color=ORANGE, line_width=LW)
p1.line(lbma_months, lbma_gold, color=BLUE, line_width=LW, y_range_name="gold")
p1.add_layout(LinearAxis(y_range_name="gold"), "right")
style_x(p1, lbma_tick_pos, lbma_tick_labels, orient=R90, size="10px")
style_y(p1.yaxis[0], list(range(800000, 1100001, 50000)))
style_y(p1.yaxis[1], list(range(250000, 320001, 10000)))
c1 = cell(p1, [("LBMA:库存:白银:当月值", ORANGE), ("LBMA:库存:黄金:当月值", BLUE)], H, 49, 53)

FH = 209
p2 = mkfig("COMEX黄金白银库存", FH, Range1d(0, 30.8), Range1d(0, 45000000),
           60, 71, 38, FH - 153, standoff=11)
p2.extra_y_ranges = {"silver": Range1d(0, 450000000)}
p2.line(comex_gold_m, comex_gold, color=BLUE, line_width=LW)
p2.line(comex_silver_m, comex_silver, color=ORANGE, line_width=LW, y_range_name="silver")
p2.add_layout(LinearAxis(y_range_name="silver"), "right")
style_x(p2, comex_tick_pos, comex_tick_labels, orient=R90, size="11px", font=SERIF, line="#BFBFBF")
style_y(p2.yaxis[0], list(range(0, 45000001, 5000000)), size="11px", font=SERIF, line="#BFBFBF")
style_y(p2.yaxis[1], list(range(0, 450000001, 50000000)), size="11px", font=SERIF, line="#BFBFBF")
c2 = cell(p2, [("COMEX黄金库存", BLUE), ("COMEX白银库存（右轴）", ORANGE)], H, 60, 71)

# ======================= ROW 2 =======================
H = 234
FH = 208
p3 = mkfig("LME铜库存", FH, Range1d(0, 12), Range1d(0, 300000), 40, 21, 43, FH - 168,
           standoff=12, bold=True)
for m, v, c in [(cu21_m, cu21_v, BLUE), (cu22_m, cu22_v, ORANGE), (cu23_m, cu23_v, GRAY),
                (cu24_m, cu24_v, YELLOW)]:
    p3.line(m, scaled(v, 1000), color=c, line_width=LW)
style_x(p3, list(range(13)), month_labels + [""], orient=R45)
style_y(p3.yaxis[0], list(range(0, 300001, 50000)))
c3 = cell(p3, [("2021年", BLUE), ("2022年", ORANGE), ("2023年", GRAY), ("2024年", YELLOW)], H, 40, 21)

FH = 206
p4 = mkfig("LME铝库存", FH, Range1d(0, 12), Range1d(0, 2500000), 64, 11, 41, FH - 166,
           standoff=12, bold=True)
for m, v, c in [(al21_m, al21_v, BLUE), (al22_m, al22_v, ORANGE), (al23_m, al23_v, GRAY),
                (al24_m, al24_v, YELLOW)]:
    p4.line(m, scaled(v, 1e6), color=c, line_width=LW)
style_x(p4, list(range(13)), month_labels + [""], orient=R45)
style_y(p4.yaxis[0], list(range(0, 2500001, 500000)))
c4 = cell(p4, [("2021年", BLUE), ("2022年", ORANGE), ("2023年", GRAY), ("2024年", YELLOW)], H, 64, 11)

# ======================= ROW 3 =======================
H = 270
FH = 232
start = pd.Timestamp(cug_start)
cug_dates = pd.date_range(cug_start, periods=len(cug_total), freq="7D")
cug_day = [(d - start).days for d in cug_dates]
cug_tick_pos = [(pd.Timestamp(s) - start).days for s in cug_tick_labels]
p5 = mkfig("铜全球交易所库存（吨）", FH, Range1d(0, cug_tick_pos[-1]), Range1d(0, 600000),
           47, 10, 51, FH - 180, standoff=4)
p5.line(cug_day, scaled(cug_cathode, 1000), color=BLUE, line_width=LW)
p5.line(cug_day, scaled(cug_total, 1000), color=ORANGE, line_width=LW)
style_x(p5, cug_tick_pos, cug_tick_labels, orient=R45, size="9.5px")
style_y(p5.yaxis[0], list(range(0, 600001, 100000)))
c5 = cell(p5, [("库存:阴极铜", BLUE), ("全球库存", ORANGE)], H, 47, 10)

FH = 233
p6 = mkfig("中国电解铝社会库存（万吨）", FH, Range1d(0, 12), Range1d(0, 140), 41, 29, 54, FH - 194,
           standoff=3)
for m, v, c in [(ac21_m, ac21_v, GRAY), (ac22_m, ac22_v, YELLOW), (ac23_m, ac23_v, DBLUE),
                (ac24_m, ac24_v, GREEN)]:
    p6.line(m, v, color=c, line_width=LW)
style_x(p6, list(range(13)), month_labels + [""])
style_y(p6.yaxis[0], list(range(0, 141, 20)))
c6 = cell(p6, [("2021年", GRAY), ("2022年", YELLOW), ("2023年", DBLUE), ("2024年", GREEN)], H, 41, 29)

# ======================= ROW 4 =======================
H = 260
FH = 222
p7 = mkfig("锌交易所库存", FH, Range1d(-0.05, 17.3), Range1d(0, 300000), 46, 17, 56, FH - 158,
           standoff=13)
p7.line(zn_lme_m, scaled(zn_lme_v, 1000), color=BLUE, line_width=LW)
p7.line(zn_shf_m, scaled(zn_shf_v, 1000), color=ORANGE, line_width=LW)
style_x(p7, ex_tick_pos, ex_tick_labels, orient=R90, size="9.5px")
style_y(p7.yaxis[0], list(range(0, 300001, 50000)))
c7 = cell(p7, [("LME锌", BLUE), ("SHEF锌", ORANGE)], H, 46, 17)

FH = 214
p8 = mkfig("铅交易所库存", FH, Range1d(-0.05, 17.3), Range1d(0, 300000), 62, 9, 46, FH - 148,
           standoff=13)
p8.line(pb_lme_m, scaled(pb_lme_v, 1000), color=BLUE, line_width=LW)
p8.line(pb_shf_m, scaled(pb_shf_v, 1000), color=ORANGE, line_width=LW)
style_x(p8, ex_tick_pos, ex_tick_labels, orient=R90, size="9.5px")
style_y(p8.yaxis[0], list(range(0, 300001, 50000)))
c8 = cell(p8, [("LME铅", BLUE), ("SHEF铅", ORANGE)], H, 62, 9)

# ======================= ROW 5 =======================
H = 275
FH = 211
p9 = mkfig("镍交易所库存", FH, Range1d(-0.05, 17.3), Range1d(0, 120000), 47, 17, 46, FH - 145,
           standoff=12)
p9.line(ni_lme_m, scaled(ni_lme_v, 1000), color=BLUE, line_width=LW)
p9.line(ni_shf_m, scaled(ni_shf_v, 1000), color=ORANGE, line_width=LW)
style_x(p9, ex_tick_pos, ex_tick_labels, orient=R90, size="9.5px")
style_y(p9.yaxis[0], list(range(0, 120001, 20000)))
c9 = cell(p9, [("LME镍", BLUE), ("SHEF镍", ORANGE)], H, 47, 17)

FH = 219
p10 = mkfig("锡交易所库存", FH, Range1d(-0.05, 17.3), Range1d(0, 20000), 57, 9, 53, FH - 153,
            standoff=12)
p10.line(sn_lme_m, scaled(sn_lme_v, 1000), color=BLUE, line_width=LW)
p10.line(sn_shf_m, scaled(sn_shf_v, 1000), color=ORANGE, line_width=LW)
style_x(p10, ex_tick_pos, ex_tick_labels, orient=R90, size="9.5px")
style_y(p10.yaxis[0], list(range(0, 20001, 2000)))
c10 = cell(p10, [("LME锡", BLUE), ("SHEF锡", ORANGE)], H, 57, 9)

# ======================= ROW 6 =======================
H = 240
FH = 209
p11 = mkfig("铜精矿港口库存（万吨）", FH, Range1d(-0.1, 26.2), Range1d(0, 120), 40, 15, 44, FH - 143,
            standoff=12)
p11.line(cc_m, cc_v, color=BLUE, line_width=LW)
style_x(p11, cc_tick_pos, cc_tick_labels, orient=R90, size="8.5px")
style_y(p11.yaxis[0], list(range(0, 121, 20)), fmt="0.00", size="9.5px")
c11 = cell(p11, [("铜精矿:港口库存:合计", BLUE)], H, 40, 15)

FH = 209
p12 = mkfig("氧化铝港口库存（万吨）", FH, Range1d(0, 12), Range1d(0, 80), 36, 8, 44, FH - 181,
            standoff=12)
for m, v, c in [(ao21_m, ao21_v, ORANGE), (ao22_m, ao22_v, GRAY), (ao23_m, ao23_v, YELLOW),
                (ao24_m, ao24_v, NAVY)]:
    p12.line(m, v, color=c, line_width=LW)
style_x(p12, list(range(13)), month_labels + [""])
style_y(p12.yaxis[0], list(range(0, 81, 10)))
c12 = cell(p12, [("2021年", ORANGE), ("2022年", GRAY), ("2023年", YELLOW), ("2024年", NAVY)], H, 36, 8)

# ======================= SOURCE =======================
src = Div(text='<div style="padding-top:4px;font-family:\'Noto Sans CJK SC\';font-weight:bold;'
               'font-size:11px;color:#000000;">数据来源：同花顺 福能期货</div>',
          width=684, height=33, margin=(0, 0, 0, 0))

# ======================= ROW 7 =======================
H = 221
FH = 203
p13 = mkfig("秦皇岛5500动力煤价格", FH, Range1d(-3, 335), Range1d(500, 1100), 50, 10, 38, FH - 148,
            standoff=11)
p13.line(coal_day, coal_val, color=BLUE, line_width=LW)
style_x(p13, coal_tick_pos, coal_tick_labels, orient=R90, size="8.5px")
style_y(p13.yaxis[0], list(range(500, 1101, 100)), fmt="0,0.00", size="9.5px")
c13 = cell(p13, [("秦皇岛5500动力煤价格", BLUE)], H, 50, 10)

FH = 203
p14 = mkfig("生产资料价格:硫酸(98%)", FH, Range1d(-0.2, 28.8), Range1d(0, 400), 42, 9, 33, FH - 150,
            standoff=9)
p14.line(sa_m, sa_v, color=BLUE, line_width=LW)
p14.text(x=[sa_m[-1]], y=[sa_v[-1]], text=["%.2f" % sa_v[-1]], text_font=value(FONT),
         text_font_size="10px", text_color=TXT, text_align="right", text_baseline="top",
         x_offset=-2, y_offset=2)
style_x(p14, sa_tick_pos, sa_tick_labels, orient=R90, size="8px")
style_y(p14.yaxis[0], list(range(0, 401, 50)), size="9.5px")
c14 = cell(p14, [("生产资料价格:硫酸(98%)", BLUE)], H, 42, 9)

layout = column(
    header("库存", 26),
    row(c1, c2), row(c3, c4), row(c5, c6), row(c7, c8), row(c9, c10), row(c11, c12),
    src, header("成本", 28), row(c13, c14),
)

open("out.html", "w", encoding="utf-8").write(file_html(layout, INLINE, title="库存"))
